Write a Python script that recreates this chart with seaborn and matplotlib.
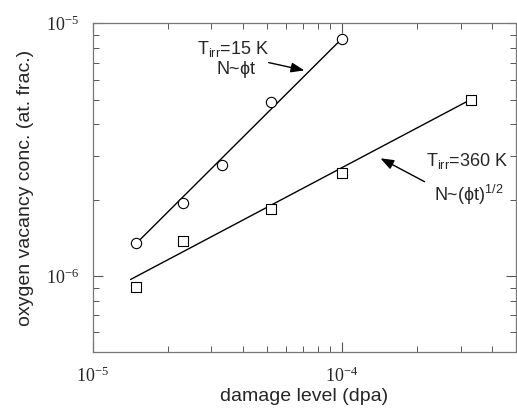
import numpy as np
import pandas as pd
import matplotlib
matplotlib.use("Agg")
import matplotlib.pyplot as plt
import seaborn as sns
from matplotlib.ticker import LogLocator, NullFormatter, FixedLocator

# data
dose_15K = [1.5e-5, 2.3e-5, 3.3e-5, 5.2e-5, 1.0e-4]
conc_15K = [1.35e-6, 1.95e-6, 2.76e-6, 4.9e-6, 8.7e-6]
dose_360K = [1.5e-5, 2.3e-5, 5.2e-5, 1.0e-4, 3.3e-4]
conc_360K = [9.1e-7, 1.38e-6, 1.84e-6, 2.57e-6, 5.0e-6]
fit_15K_x = [1.5e-5, 1.0e-4]
fit_15K_y = [1.35e-6, 8.7e-6]
fit_360K_x = [1.42e-5, 3.29e-4]
fit_360K_y = [9.7e-7, 5.0e-6]

sns.set_style("ticks")
plt.rcParams["font.family"] = ["Liberation Sans", "DejaVu Sans"]
plt.rcParams["mathtext.fontset"] = "custom"
plt.rcParams["mathtext.rm"] = "Liberation Sans"
plt.rcParams["mathtext.it"] = "Liberation Sans"

H = 412
fig = plt.figure(figsize=(5.17, 4.12), dpi=100)
ax = fig.add_axes([0.179, 0.145, 0.819, 0.798])

df15 = pd.DataFrame({"x": dose_15K, "y": conc_15K})
df360 = pd.DataFrame({"x": dose_360K, "y": conc_360K})
f15 = pd.DataFrame({"x": fit_15K_x, "y": fit_15K_y})
f360 = pd.DataFrame({"x": fit_360K_x, "y": fit_360K_y})

sns.lineplot(data=f15, x="x", y="y", ax=ax, color="black", lw=1.0, zorder=2)
sns.lineplot(data=f360, x="x", y="y", ax=ax, color="black", lw=1.0, zorder=2)
sns.scatterplot(data=df15, x="x", y="y", ax=ax, marker="o", s=55,
                facecolor="white", edgecolor="black", linewidth=0.8, zorder=3)
sns.scatterplot(data=df360, x="x", y="y", ax=ax, marker="s", s=55,
                facecolor="white", edgecolor="black", linewidth=0.8, zorder=3)

ax.set_xscale("log")
ax.set_yscale("log")
ax.set_xlim(1e-5, 5e-4)
ax.set_ylim(5e-7, 1e-5)

ax.xaxis.set_major_locator(FixedLocator([1e-5, 1e-4]))
ax.yaxis.set_major_locator(FixedLocator([1e-6, 1e-5]))
ax.xaxis.set_minor_locator(LogLocator(base=10, subs=np.arange(2, 10)))
ax.yaxis.set_minor_locator(LogLocator(base=10, subs=np.arange(2, 10)))
ax.xaxis.set_minor_formatter(NullFormatter())
ax.yaxis.set_minor_formatter(NullFormatter())
ax.set_xticklabels([r"$\mathregular{10^{-5}}$", r"$\mathregular{10^{-4}}$"],
                   fontfamily="Liberation Serif")
ax.set_yticklabels([r"$\mathregular{10^{-6}}$", r"$\mathregular{10^{-5}}$"],
                   fontfamily="Liberation Serif")

ax.tick_params(which="both", direction="in", top=True, right=True,
               color="#555555", labelsize=13)
ax.tick_params(which="major", length=7, width=0.8, pad=10)
ax.tick_params(which="minor", length=4, width=0.7)
for sp in ax.spines.values():
    sp.set_visible(True)
    sp.set_color("#777777")
    sp.set_linewidth(0.9)

ax.set_xlabel("damage level (dpa)", fontsize=14, labelpad=2)
ax.set_ylabel("oxygen vacancy conc. (at. frac.)", fontsize=14, labelpad=8)

arrow = dict(arrowstyle="-|>,head_length=0.8,head_width=0.3", color="black", lw=1.0)
ax.text(233, H - 49, r"T$_{\mathregular{irr}}$=15 K", transform=None, fontsize=13,
        ha="center", va="center")
ax.text(236, H - 70, r"N~$\phi$t", transform=None, fontsize=13, ha="center", va="center")
ax.annotate("", xy=(307, H - 71), xytext=(266, H - 62),
            xycoords="figure pixels", textcoords="figure pixels", arrowprops=arrow)
ax.text(467, H - 161, r"T$_{\mathregular{irr}}$=360 K", transform=None,
        fontsize=13, ha="center", va="center")
ax.text(469, H - 195, r"N~($\phi$t)$^{\mathregular{1/2}}$", transform=None,
        fontsize=13, ha="center", va="center")
ax.annotate("", xy=(378, H - 157), xytext=(427, H - 183),
            xycoords="figure pixels", textcoords="figure pixels", arrowprops=arrow)

fig.savefig("out.png", dpi=100)
